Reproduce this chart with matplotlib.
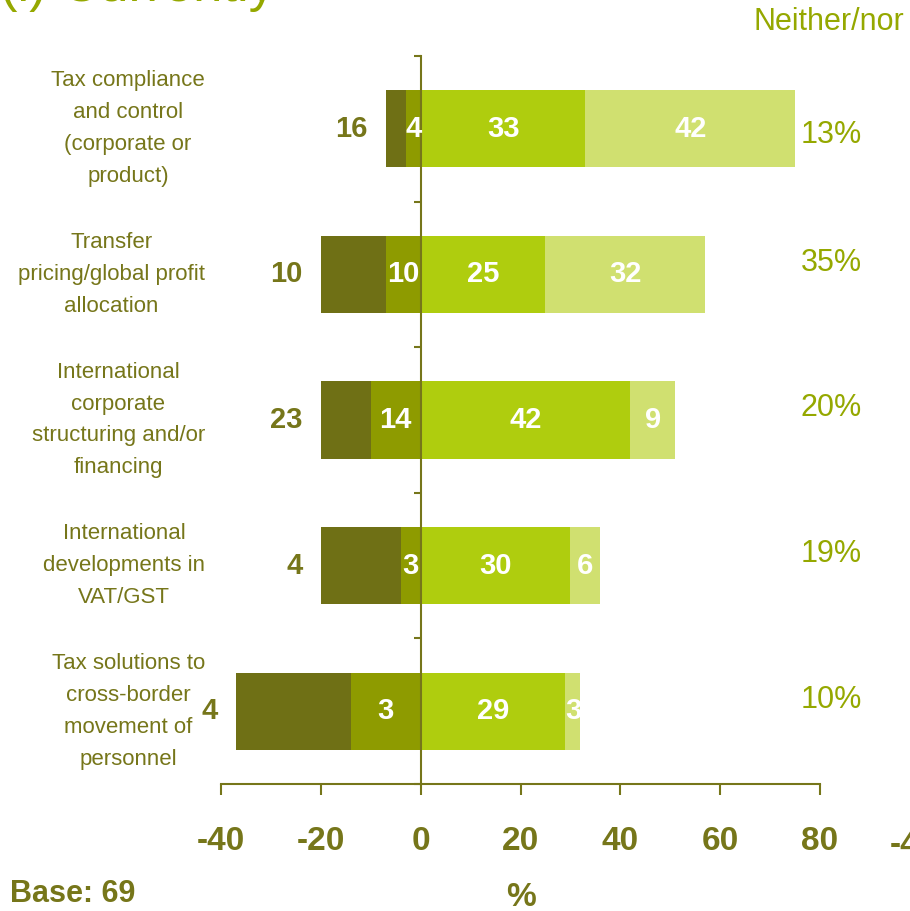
import matplotlib
matplotlib.use('Agg')
import matplotlib.pyplot as plt
from matplotlib.transforms import blended_transform_factory

plt.rcParams['font.family'] = ['Liberation Sans', 'DejaVu Sans']

categories = ['Tax compliance\nand control\n(corporate or\nproduct)',
              'Transfer\npricing/global profit\nallocation',
              'International\ncorporate\nstructuring and/or\nfinancing',
              'International\ndevelopments in\nVAT/GST',
              'Tax solutions to\ncross-border\nmovement of\npersonnel']
# bar lengths as drawn (negative side)
disagree = [-3, -7, -10, -4, -14]
strongly_disagree = [-4, -13, -10, -16, -23]
# labels printed on the negative side
disagree_labels = [4, 10, 14, 3, 3]
strongly_disagree_labels = [16, 10, 23, 4, 4]
# positive side
agree = [33, 25, 42, 30, 29]
strongly_agree = [42, 32, 9, 6, 3]
neither = ['13%', '35%', '20%', '19%', '10%']
xticks = [-40, -20, 0, 20, 40, 60, 80]

DARK = '#6f7015'
MID = '#8e9b00'
BRIGHT = '#afcd0e'
LIGHT = '#d0e070'
TEXT = '#76761a'
GREEN = '#95a800'

fig = plt.figure(figsize=(9.1, 9.11), dpi=100)
ax = fig.add_axes([221 / 910, 1 - 784 / 911, 599 / 910, 728 / 911])

y = list(range(len(categories)))
h = 0.53
ax.barh(y, disagree, height=h, color=MID, zorder=2)
ax.barh(y, strongly_disagree, left=disagree, height=h, color=DARK, zorder=2)
ax.barh(y, agree, height=h, color=BRIGHT, zorder=2)
ax.barh(y, strongly_agree, left=agree, height=h, color=LIGHT, zorder=2)

lab = dict(color='white', fontsize=21, fontweight='bold', ha='center', va='center', zorder=4)
for i in y:
    ax.text(disagree[i] / 2, i, str(disagree_labels[i]), **lab)
    ax.text(agree[i] / 2, i, str(agree[i]), **lab)
    ax.text(agree[i] + strongly_agree[i] / 2, i, str(strongly_agree[i]), **lab)
    # strongly disagree value sits outside the bar, to its left
    left_end = disagree[i] + strongly_disagree[i]
    ax.annotate(str(strongly_disagree_labels[i]), (left_end, i), xytext=(-18, 0),
                textcoords='offset pixels', ha='right', va='center',
                color=TEXT, fontsize=21, fontweight='bold')

trans = blended_transform_factory(fig.transFigure, ax.transData)
nudge = [0.04, -0.08, -0.08, -0.08, -0.08]
for i in y:
    # category label: right-aligned block, lines centered
    fig.text(205 / 910, i, categories[i], transform=trans, ha='right', va='center',
             multialignment='center', color=TEXT, fontsize=16, linespacing=1.68)
    fig.text(831 / 910, i + nudge[i], neither[i], transform=trans, ha='center',
             va='center', color=GREEN, fontsize=22)

ax.set_xlim(-40, 80)
ax.set_ylim(len(categories) - 0.5, -0.5)

for s in ['top', 'right']:
    ax.spines[s].set_visible(False)
ax.spines['left'].set_position(('data', 0))
ax.spines['left'].set_color(TEXT)
ax.spines['left'].set_linewidth(1.5)
ax.spines['left'].set_zorder(3)
ax.spines['bottom'].set_color(TEXT)
ax.spines['bottom'].set_linewidth(1.5)

ax.set_yticks([k - 0.5 for k in range(len(categories) + 1)])
ax.set_yticklabels([])
ax.tick_params(axis='y', direction='out', length=5, width=1.5, color=TEXT)
ax.set_xticks(xticks)
ax.set_xticklabels([str(t) for t in xticks])
ax.tick_params(axis='x', direction='out', length=8, width=1.5, color=TEXT,
               labelcolor=TEXT, labelsize=24, pad=22)
for t in ax.get_xticklabels():
    t.set_fontweight('bold')

fig.text(0.0, 1 - 1 / 911, '(i) Currently', ha='left', va='baseline', color=GREEN, fontsize=38)
fig.text(753 / 910, 1 - 22 / 911, 'Neither/nor', ha='left', va='center', color=GREEN, fontsize=22)
fig.text(521 / 910, 1 - 897 / 911, '%', ha='center', va='center', color=TEXT,
         fontsize=24, fontweight='bold')
fig.text(10 / 910, 1 - 894 / 911, 'Base: 69', ha='left', va='center', color=TEXT,
         fontsize=22, fontweight='bold')
fig.text(890 / 910, 1 - 845 / 911, '-40', ha='left', va='center', color=TEXT,
         fontsize=24, fontweight='bold')

fig.savefig('out.png', dpi=100)
